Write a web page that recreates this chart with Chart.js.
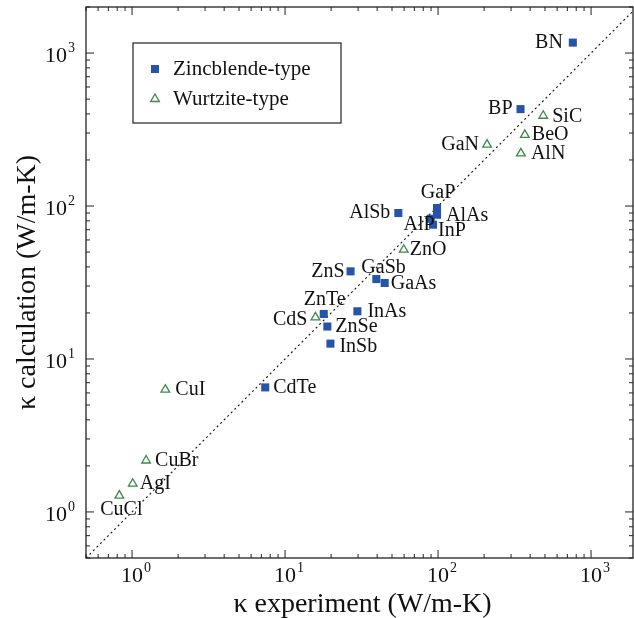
<!DOCTYPE html>
<html>
<head>
<meta charset="utf-8">
<script src="https://cdn.jsdelivr.net/npm/chart.js@4/dist/chart.umd.min.js"></script>
<style>
  html, body { margin: 0; padding: 0; background: #fff; }
  #wrap { width: 634px; height: 618px; }
</style>
</head>
<body>
<div id="wrap"><canvas id="grafico" width="634" height="618"></canvas></div>
<script>
// dados
const zbNames = ['BN', 'BP', 'AlSb', 'GaP', 'AlAs', 'AlP', 'InP', 'ZnS', 'GaSb', 'GaAs', 'ZnTe', 'InAs', 'ZnSe', 'InSb', 'CdTe'];
const zbExp   = [760, 346, 55, 98.5, 98.5, 89.5, 92.7, 26.8, 39.5, 44.8, 17.9, 29.7, 18.9, 19.8, 7.42];
const zbCalc  = [1170, 430, 90, 97, 87.7, 82.6, 75.5, 37.4, 33.3, 31.4, 19.7, 20.5, 16.3, 12.6, 6.52];

const wzNames = ['SiC', 'BeO', 'AlN', 'GaN', 'ZnO', 'CdS', 'CuI', 'CuBr', 'AgI', 'CuCl'];
const wzExp   = [487, 369, 348, 209, 59.7, 15.8, 1.65, 1.235, 1.01, 0.826];
const wzCalc  = [389, 292, 221, 252, 51.8, 18.7, 6.3, 2.17, 1.53, 1.28];

const decadeTicks = [1, 10, 100, 1000];
const decadeLabels = ['0', '1', '2', '3'];

// posicao dos rotulos (dx, dy, alinhamento)
const labelPos = {
  BN: [-10, 0, 'right'], BP: [-8, 0, 'right'], AlSb: [-8, 0, 'right'],
  GaP: [1, -15, 'center'], AlAs: [9, 1, 'left'], AlP: [4, 6, 'right'],
  InP: [5, 6, 'left'], ZnS: [-6, 0, 'right'], GaSb: [-15, -11, 'left'],
  GaAs: [6, 1, 'left'], ZnTe: [1, -14, 'center'], InAs: [10, 0, 'left'],
  ZnSe: [8, 0, 'left'], InSb: [9, 3, 'left'], CdTe: [8, 0, 'left'],
  SiC: [9, 1, 'left'], BeO: [7, 0, 'left'], AlN: [10, 0, 'left'],
  GaN: [-8, 0, 'right'], ZnO: [6, 0, 'left'], CdS: [-8, 2, 'right'],
  CuI: [10, 0, 'left'], CuBr: [9, 0, 'left'], AgI: [7, 0, 'left'],
  CuCl: [2, 14, 'center']
};

const SERIF = "'Liberation Serif', 'Times New Roman', serif";
const BLUE = '#2654a8';
const GREEN = '#3b8a47';

const toPts = (xs, ys) => xs.map((v, i) => ({ x: v, y: ys[i] }));

const labelsPlugin = {
  id: 'rotulos',
  afterDatasetsDraw(chart) {
    const ctx = chart.ctx;
    ctx.save();
    ctx.font = '20px ' + SERIF;
    ctx.fillStyle = '#111';
    ctx.textBaseline = 'middle';
    chart.data.datasets.forEach((ds, i) => {
      if (!ds.names) return;
      chart.getDatasetMeta(i).data.forEach((pt, j) => {
        const p = labelPos[ds.names[j]] || [8, 0, 'left'];
        ctx.textAlign = p[2];
        ctx.fillText(ds.names[j], pt.x + p[0], pt.y + p[1]);
      });
    });
    ctx.restore();
  }
};

const axesPlugin = {
  id: 'eixos',
  afterDraw(chart) {
    const { ctx, chartArea: a, scales: { x, y } } = chart;
    ctx.save();
    ctx.strokeStyle = '#222';
    ctx.lineWidth = 1.3;
    ctx.strokeRect(a.left, a.top, a.right - a.left, a.bottom - a.top);

    // ticks para dentro, nos 4 lados
    ctx.lineWidth = 1;
    ctx.beginPath();
    for (let k = -1; k <= 3; k++) {
      for (let m = 1; m <= 9; m++) {
        const v = m * Math.pow(10, k);
        const len = m === 1 ? 8 : 4;
        if (v >= x.min && v <= x.max) {
          const px = x.getPixelForValue(v);
          ctx.moveTo(px, a.bottom); ctx.lineTo(px, a.bottom - len);
          ctx.moveTo(px, a.top); ctx.lineTo(px, a.top + len);
        }
        if (v >= y.min && v <= y.max) {
          const py = y.getPixelForValue(v);
          ctx.moveTo(a.left, py); ctx.lineTo(a.left + len, py);
          ctx.moveTo(a.right, py); ctx.lineTo(a.right - len, py);
        }
      }
    }
    ctx.stroke();

    // rotulos 10^n
    ctx.fillStyle = '#111';
    ctx.textBaseline = 'alphabetic';
    decadeTicks.forEach((v, i) => {
      const px = x.getPixelForValue(v);
      ctx.font = '22px ' + SERIF;
      ctx.textAlign = 'center';
      ctx.fillText('10', px, a.bottom + 24);
      const w = ctx.measureText('10').width;
      ctx.font = '14px ' + SERIF;
      ctx.textAlign = 'left';
      ctx.fillText(decadeLabels[i], px + w / 2 + 1, a.bottom + 14);

      const py = y.getPixelForValue(v);
      ctx.font = '14px ' + SERIF;
      const ws = ctx.measureText(decadeLabels[i]).width;
      ctx.textAlign = 'right';
      ctx.fillText(decadeLabels[i], a.left - 11, py - 1);
      ctx.font = '22px ' + SERIF;
      ctx.fillText('10', a.left - 12 - ws, py + 9);
    });

    // titulos dos eixos
    ctx.font = '28px ' + SERIF;
    ctx.textAlign = 'center';
    ctx.textBaseline = 'middle';
    ctx.fillText('κ experiment (W/m-K)', (a.left + a.right) / 2 + 3, a.bottom + 47);
    ctx.translate(28, (a.top + a.bottom) / 2);
    ctx.rotate(-Math.PI / 2);
    ctx.fillText('κ calculation (W/m-K)', 0, 0);
    ctx.restore();

    // legenda
    ctx.save();
    const lx = a.left + 47, ly = a.top + 36;
    ctx.strokeStyle = '#222';
    ctx.lineWidth = 1.2;
    ctx.strokeRect(lx, ly, 208, 80);
    const items = chart.data.datasets.filter(d => d.names);
    items.forEach((d, i) => {
      const my = ly + 26 + i * 30;
      ctx.fillStyle = d.pointBackgroundColor;
      ctx.strokeStyle = d.pointBorderColor;
      ctx.lineWidth = d.pointBorderWidth;
      Chart.helpers.drawPoint(ctx, { pointStyle: d.pointStyle, radius: d.pointRadius, rotation: 0, borderWidth: d.pointBorderWidth }, lx + 22, my);
      ctx.fillStyle = '#111';
      ctx.font = '21px ' + SERIF;
      ctx.textAlign = 'left';
      ctx.textBaseline = 'middle';
      ctx.fillText(d.label, lx + 40, my);
    });
    ctx.restore();
  }
};

// eixos sem espaco reservado: a area do grafico vem so do padding
const semEspaco = s => {
  if (s.isHorizontal()) s.height = 0; else s.width = 0;
  s.paddingLeft = s.paddingRight = s.paddingTop = s.paddingBottom = 0;
};

const ctx = document.getElementById('grafico').getContext('2d');
new Chart(ctx, {
  type: 'scatter',
  data: {
    datasets: [
      {
        label: 'Zincblende-type',
        names: zbNames,
        data: toPts(zbExp, zbCalc),
        pointStyle: 'rect',
        pointRadius: 5.7,
        pointBackgroundColor: BLUE,
        pointBorderColor: BLUE,
        pointBorderWidth: 0,
        order: 1
      },
      {
        label: 'Wurtzite-type',
        names: wzNames,
        data: toPts(wzExp, wzCalc),
        pointStyle: 'triangle',
        pointRadius: 5,
        pointBackgroundColor: 'rgba(255,255,255,0)',
        pointBorderColor: GREEN,
        pointBorderWidth: 1.3,
        order: 2
      },
      {
        type: 'line',
        label: 'y = x',
        data: [{ x: 0.5, y: 0.5 }, { x: 2000, y: 2000 }],
        borderColor: '#222',
        borderWidth: 1.2,
        borderDash: [2, 3],
        pointRadius: 0,
        order: 10
      }
    ]
  },
  options: {
    responsive: false,
    animation: false,
    layout: { autoPadding: false, padding: { left: 86, top: 7, right: 1, bottom: 60 } },
    plugins: { legend: { display: false }, tooltip: { enabled: false } },
    scales: {
      x: { type: 'logarithmic', min: 0.5, max: 1880, afterFit: semEspaco, ticks: { display: false }, grid: { display: false, drawTicks: false }, border: { display: false } },
      y: { type: 'logarithmic', min: 0.5, max: 2000, afterFit: semEspaco, ticks: { display: false }, grid: { display: false, drawTicks: false }, border: { display: false } }
    }
  },
  plugins: [labelsPlugin, axesPlugin]
});
</script>
</body>
</html>
